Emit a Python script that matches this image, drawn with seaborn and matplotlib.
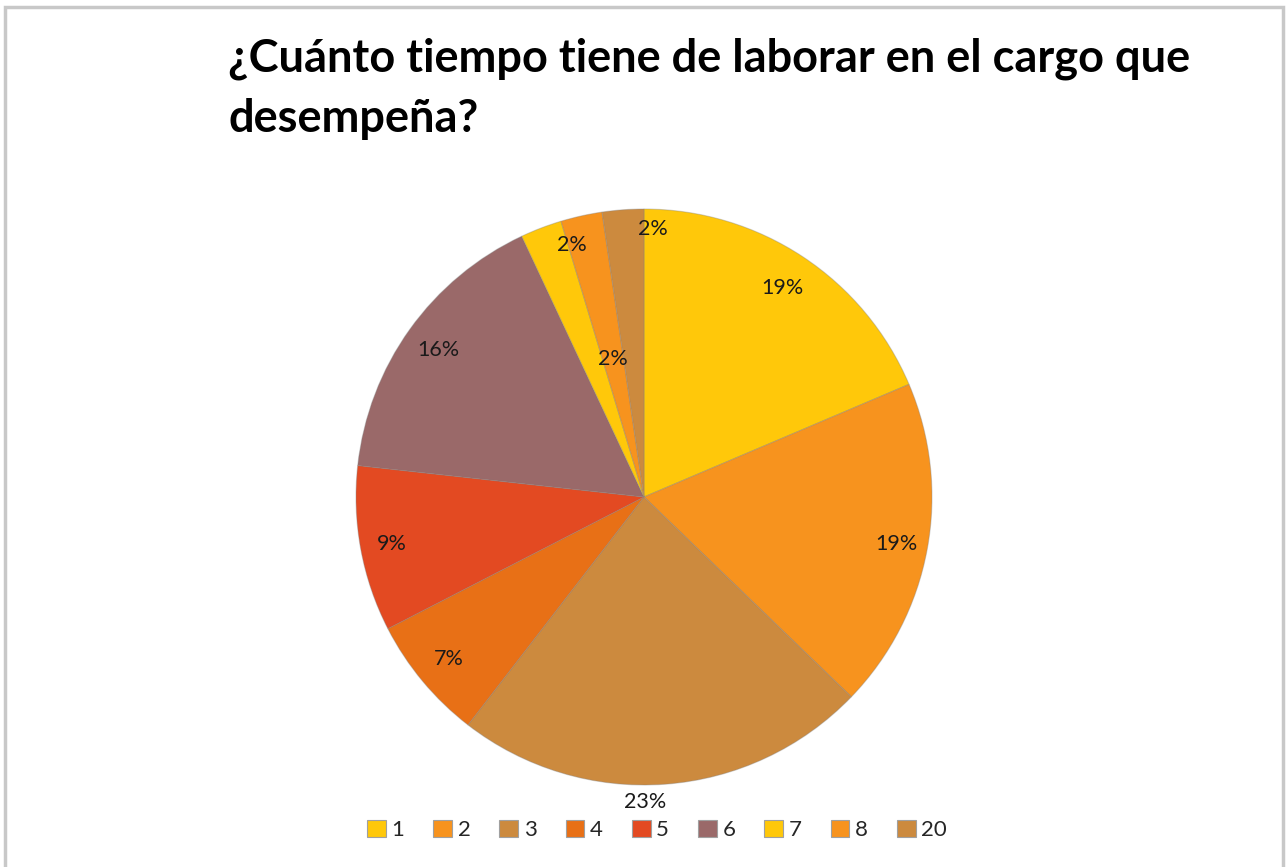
import matplotlib
matplotlib.use("Agg")
import matplotlib.pyplot as plt
import seaborn as sns
from matplotlib.patches import Rectangle
import numpy as np

# Años en el cargo y número de respuestas
categorias = ["1", "2", "3", "4", "5", "6", "7", "8", "20"]
respuestas = [8, 8, 10, 3, 4, 7, 1, 1, 1]
colores = ["#FFC80A", "#F7931E", "#CC8A3E", "#E87016", "#E34A22",
           "#9A6969", "#FFC80A", "#F7931E", "#CC8A3E"]
titulo = "¿Cuánto tiempo tiene de laborar en el cargo que\ndesempeña?"

# where each percentage label sits (radius factor, angle shift in degrees)
label_pos = [(0.87, 0), (0.89, 0), (1.06, -4), (0.88, 0), (0.89, 0),
             (0.88, 0), (0.91, -5), (0.49, 0), (0.93, -6)]

sns.set_theme(style="white")
plt.rcParams["font.family"] = ["Lato", "DejaVu Sans"]

fig = plt.figure(figsize=(12.88, 8.67), dpi=100)
fig.patch.set_facecolor("white")

# light frame round the chart area, as in the spreadsheet export
fig.patches.append(Rectangle((5 / 1288, -0.05), 1278 / 1288, 1.05 - 7 / 867,
                             transform=fig.transFigure, fill=False,
                             edgecolor="#C8C8C8", linewidth=2.5))

R = 288
cx, cy = 644, 497
ax = fig.add_axes([(cx - R) / 1288, (867 - cy - R) / 867, 2 * R / 1288, 2 * R / 867])

wedges, _ = ax.pie(respuestas, colors=colores, startangle=90, counterclock=False,
                   radius=1, wedgeprops=dict(edgecolor=(0.5, 0.5, 0.5, 0.35), linewidth=0.8))
ax.set_xlim(-1, 1)
ax.set_ylim(-1, 1)
ax.set_aspect("equal")
ax.axis("off")

total = sum(respuestas)
for w, n, (rf, shift) in zip(wedges, respuestas, label_pos):
    ang = np.deg2rad((w.theta1 + w.theta2) / 2 + shift)
    ax.text(rf * np.cos(ang), rf * np.sin(ang), f"{round(100 * n / total)}%",
            ha="center", va="center", fontsize=15.5, color="#1a1a1a", clip_on=False)

fig.text(228 / 1288, 1 - 38 / 867, titulo, ha="left", va="top",
         fontsize=32.5, fontweight="bold", color="black", linespacing=1.5)

handles = [Rectangle((0, 0), 1, 1, facecolor=c, edgecolor="#A0A0A0", linewidth=0.8)
           for c in colores]
fig.legend(handles, categorias, loc="center", bbox_to_anchor=(657 / 1288, 1 - 830 / 867),
           ncol=9, frameon=False, fontsize=16, handlelength=0.85, handleheight=0.85,
           handletextpad=0.25, columnspacing=1.3)

fig.savefig("out.png", dpi=100)
